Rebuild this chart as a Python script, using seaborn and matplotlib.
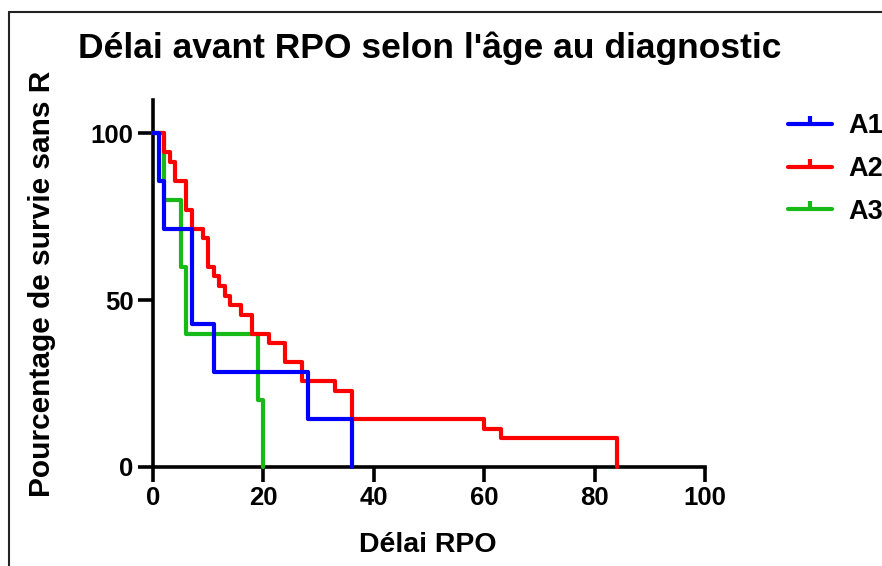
import pandas as pd
import matplotlib
matplotlib.use("Agg")
import matplotlib.pyplot as plt
import seaborn as sns
from matplotlib.lines import Line2D

# survival steps (time, % still RPO-free)
a1_time = [0, 1, 2, 7, 11, 28, 36]
a1_surv = [100, 85.7, 71.4, 42.9, 28.6, 14.3, 0]

a2_time = [0, 2, 3, 4, 6, 7, 9, 10, 11, 12, 13, 14, 16, 18, 21, 24, 27, 33, 36, 60, 63, 84]
a2_surv = [100, 94.3, 91.4, 85.7, 77.1, 71.4, 68.6, 60, 57.1, 54.3, 51.4, 48.6, 45.7,
           40, 37.1, 31.4, 25.7, 22.9, 14.3, 11.4, 8.6, 0]

a3_time = [0, 2, 5, 6, 19, 20]
a3_surv = [100, 80, 60, 40, 20, 0]

groups = ["A1", "A2", "A3"]
colors = {"A1": "#0000FF", "A2": "#FF0000", "A3": "#18BA18"}
x_ticks = [0, 20, 40, 60, 80, 100]
y_ticks = [0, 50, 100]

df = pd.concat([
    pd.DataFrame({"time": a1_time, "surv": a1_surv, "group": "A1"}),
    pd.DataFrame({"time": a2_time, "surv": a2_surv, "group": "A2"}),
    pd.DataFrame({"time": a3_time, "surv": a3_surv, "group": "A3"}),
])

sns.set_style("ticks")
plt.rcParams["font.family"] = ["Liberation Sans", "DejaVu Sans"]
plt.rcParams["font.weight"] = "bold"
plt.rcParams["text.color"] = "black"
plt.rcParams["xtick.color"] = "black"
plt.rcParams["ytick.color"] = "black"
plt.rcParams["axes.labelcolor"] = "black"

fig = plt.figure(figsize=(8.82, 5.66), dpi=100)
ax = fig.add_axes([153 / 882, 99 / 566, 552 / 882, 367 / 566])

zorders = {"A1": 6, "A2": 5, "A3": 4}
for g in groups:
    sub = df[df["group"] == g]
    sns.lineplot(data=sub, x="time", y="surv", ax=ax, color=colors[g],
                 drawstyle="steps-post", estimator=None, sort=False,
                 linewidth=3, zorder=zorders[g], clip_on=False, legend=False)

ax.set_xlim(0, 100)
ax.set_ylim(0, 110)
ax.set_xticks(x_ticks)
ax.set_yticks(y_ticks)
ax.tick_params(axis="both", length=11, width=2.6, color="black",
               labelsize=18.5, pad=3)
for lab in ax.get_xticklabels() + ax.get_yticklabels():
    lab.set_fontweight("bold")
sns.despine(ax=ax)
for s in ["left", "bottom"]:
    ax.spines[s].set_linewidth(2.6)
    ax.spines[s].set_color("black")

ax.set_xlabel("Délai RPO", fontsize=20.5, fontweight="bold")
ax.set_ylabel("Pourcentage de survie sans R", fontsize=21.5, fontweight="bold")
ax.xaxis.set_label_coords((428 - 153) / 552, -(532 - 467) / 367)
ax.yaxis.set_label_coords((56 - 153) / 552, 0.5)
fig.text(430 / 882, 1 - 48 / 566, "Délai avant RPO selon l'âge au diagnostic",
         ha="center", va="center", fontsize=25.5, fontweight="bold")

handles = [Line2D([], [], color=colors[g], linewidth=3, marker=2,
                  markersize=6, markeredgewidth=3) for g in groups]
fig.legend(handles, groups, loc="upper left", bbox_to_anchor=(764 / 882, 1 - 89 / 566),
           frameon=False, fontsize=19.5, handlelength=1.6, labelspacing=0.62,
           handletextpad=0.6)

# thin frame around the figure (only left and top visible in the crop)
fig.add_artist(Line2D([9 / 882, 9 / 882], [0, 1 - 12 / 566], color="#222222",
                      linewidth=1.5, transform=fig.transFigure))
fig.add_artist(Line2D([9 / 882, 1], [1 - 12 / 566, 1 - 12 / 566], color="#222222",
                      linewidth=1.5, transform=fig.transFigure))

fig.savefig("out.png", dpi=100)
